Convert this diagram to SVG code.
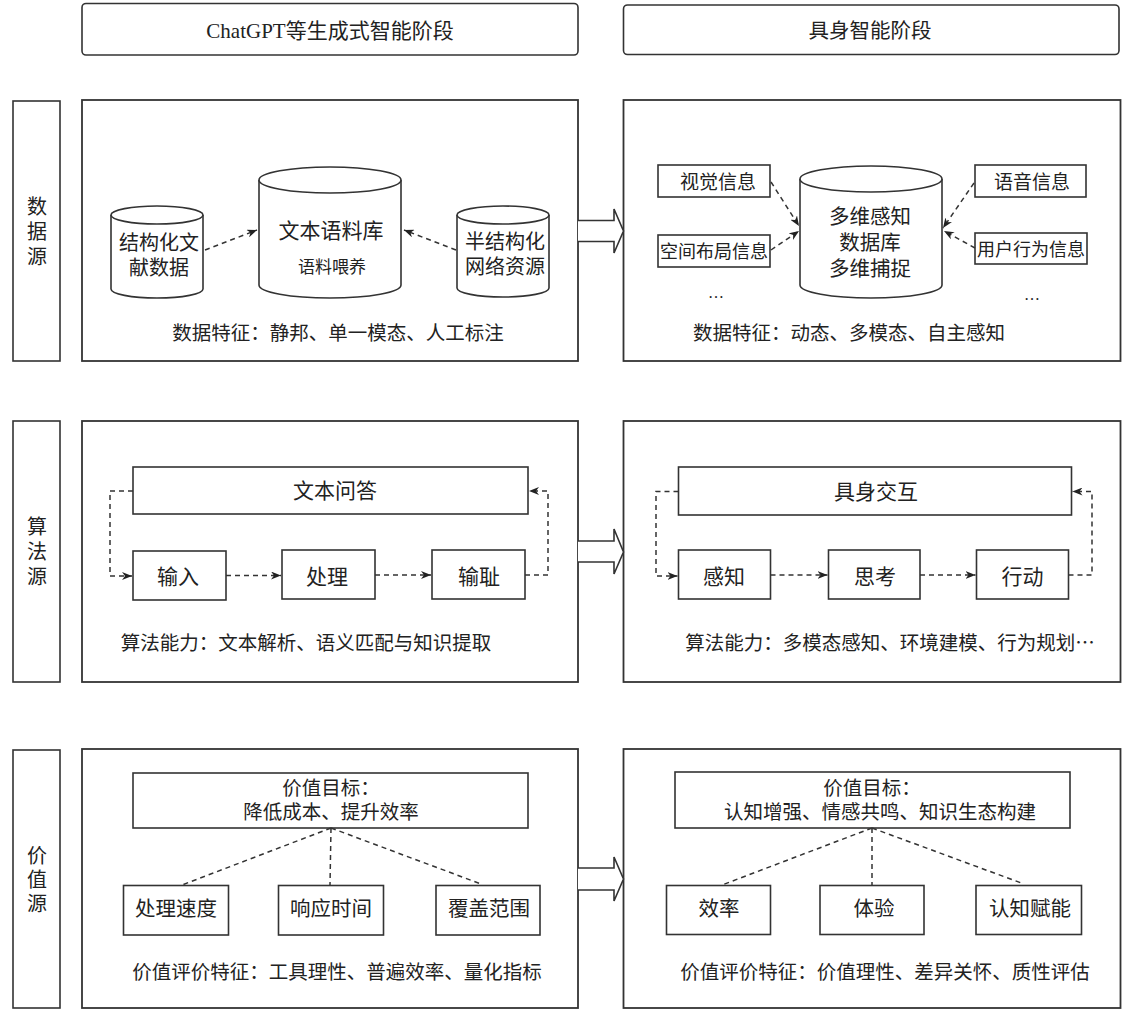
<svg xmlns="http://www.w3.org/2000/svg" width="1122" height="1011" viewBox="0 0 1122 1011">
<defs>
<style>
.box{fill:#fff;stroke:#333;stroke-width:1.6}
.pan{fill:#fff;stroke:#333;stroke-width:1.8}
.t{font-family:"Liberation Serif","Noto Sans CJK SC",serif;fill:#222;text-anchor:middle}
.s{font-family:"Liberation Sans","Noto Sans CJK SC",sans-serif;fill:#222;text-anchor:middle}
.dash{fill:none;stroke:#333;stroke-width:1.5;stroke-dasharray:5 4}
.dar{fill:none;stroke:#333;stroke-width:1.5;stroke-dasharray:5 4;marker-end:url(#ah)}
.big{fill:#fff;stroke:#333;stroke-width:1.6}
</style>
<marker id="ah" viewBox="0 0 10 8" refX="10" refY="4" markerWidth="10" markerHeight="8" markerUnits="userSpaceOnUse" orient="auto">
<path d="M0,0 L10,4 L0,8 L3,4 z" fill="#222"/>
</marker>
</defs>
<rect width="1122" height="1011" fill="#fff"/>

<g id="header-left"><rect class="box" x="82" y="3.5" width="496" height="51.5" rx="4"/><text class="t" x="330" y="37.5" font-size="21">ChatGPT等生成式智能阶段</text></g>
<g id="header-right"><rect class="box" x="623.5" y="5" width="495.5" height="49.5" rx="4"/><text class="s" x="870" y="37.5" font-size="20.5">具身智能阶段</text></g>

<g id="label-data"><rect class="box" x="13" y="101" width="47" height="260"/><text class="s" font-size="20"><tspan x="37" y="214.2">数</tspan><tspan x="37" y="239.2">据</tspan><tspan x="37" y="264.2">源</tspan></text></g>
<g id="label-algo"><rect class="box" x="13" y="421" width="47" height="261"/><text class="s" font-size="20"><tspan x="37" y="534.2">算</tspan><tspan x="37" y="559.2">法</tspan><tspan x="37" y="584.2">源</tspan></text></g>
<g id="label-value"><rect class="box" x="13" y="750" width="47" height="258"/><text class="s" font-size="20"><tspan x="37" y="863.2">价</tspan><tspan x="37" y="887.2">值</tspan><tspan x="37" y="911.2">源</tspan></text></g>

<g id="panel-data-left"><rect class="pan" x="82" y="100" width="496" height="261"/>
<text class="t" x="338" y="340" font-size="19.5">数据特征：静邦、单一模态、人工标注</text></g>
<g id="panel-data-right"><rect class="pan" x="623.5" y="100" width="497" height="261"/>
<text class="t" x="849" y="340" font-size="19.5">数据特征：动态、多模态、自主感知</text>
<text class="t" x="716" y="298" font-size="16">…</text>
<text class="t" x="1032" y="300" font-size="16">…</text></g>
<g id="panel-algo-left"><rect class="pan" x="82" y="421" width="496" height="261"/>
<text class="t" x="306" y="650" font-size="19.5">算法能力：文本解析、语义匹配与知识提取</text></g>
<g id="panel-algo-right"><rect class="pan" x="623.5" y="421" width="497" height="261"/>
<text class="t" x="890" y="650" font-size="19.5">算法能力：多模态感知、环境建模、行为规划<tspan font-family="Noto Sans CJK SC, sans-serif">…</tspan></text></g>
<g id="panel-value-left"><rect class="pan" x="82" y="749" width="496" height="259"/>
<text class="t" x="337" y="979" font-size="19.5">价值评价特征：工具理性、普遍效率、量化指标</text></g>
<g id="panel-value-right"><rect class="pan" x="623.5" y="749" width="497" height="259"/>
<text class="t" x="885" y="979" font-size="19.5">价值评价特征：价值理性、差异关怀、质性评估</text></g>

<g id="cyl-structured"><path class="box" d="M111,215 V289 A46,9 0 0 0 203,289 V215"/><ellipse class="box" cx="157" cy="215" rx="46" ry="9"/>
<text class="s" font-size="20"><tspan x="159" y="250.2">结构化文</tspan><tspan x="159" y="275.2">献数据</tspan></text></g>
<g id="cyl-corpus"><path class="box" d="M259,180 V285 A71,13 0 0 0 401,285 V180"/><ellipse class="box" cx="330" cy="180" rx="71" ry="13"/>
<text class="s" x="331" y="237.6" font-size="21">文本语料库</text><text class="s" x="332" y="273" font-size="17">语料喂养</text></g>
<g id="cyl-semi"><path class="box" d="M457,215 V288 A46,9 0 0 0 549,288 V215"/><ellipse class="box" cx="503" cy="215" rx="46" ry="9"/>
<text class="s" font-size="20"><tspan x="505" y="249.2">半结构化</tspan><tspan x="505" y="274.2">网络资源</tspan></text></g>

<g id="cyl-multi"><path class="box" d="M800,179 V285 A71,13 0 0 0 942,285 V179"/><ellipse class="box" cx="871" cy="179" rx="71" ry="13"/>
<text class="s" font-size="20.5"><tspan x="870" y="224.4">多维感知</tspan><tspan x="870" y="250.2">数据库</tspan><tspan x="870" y="276">多维捕捉</tspan></text></g>
<g id="n-visual"><rect class="box" x="658" y="165" width="112" height="32"/><text class="s" x="718" y="188.8" font-size="19">视觉信息</text></g>
<g id="n-space"><rect class="box" x="658" y="235" width="112" height="32"/><text class="s" x="714" y="257.5" font-size="18">空间布局信息</text></g>
<g id="n-voice"><rect class="box" x="975" y="165" width="111" height="32"/><text class="s" x="1032" y="188.8" font-size="19">语音信息</text></g>
<g id="n-user"><rect class="box" x="975" y="233" width="112" height="31"/><text class="s" x="1031" y="255.5" font-size="18">用户行为信息</text></g>

<g id="n-qa"><rect class="box" x="133" y="467" width="395" height="47"/><text class="s" x="335" y="498" font-size="21">文本问答</text></g>
<g id="n-input"><rect class="box" x="133" y="551" width="93" height="49"/><text class="s" x="178" y="583.5" font-size="21">输入</text></g>
<g id="n-process"><rect class="box" x="282" y="550" width="93" height="49"/><text class="s" x="327" y="583.5" font-size="21">处理</text></g>
<g id="n-output"><rect class="box" x="432" y="550" width="93" height="49"/><text class="s" x="479" y="583.5" font-size="21">输耻</text></g>

<g id="n-embodied"><rect class="box" x="678.5" y="467" width="393" height="48"/><text class="s" x="876" y="498.5" font-size="21">具身交互</text></g>
<g id="n-perceive"><rect class="box" x="678.5" y="550" width="92" height="49"/><text class="s" x="724" y="583.5" font-size="21">感知</text></g>
<g id="n-think"><rect class="box" x="828.5" y="550" width="91.5" height="49"/><text class="s" x="875" y="583.5" font-size="21">思考</text></g>
<g id="n-act"><rect class="box" x="976.5" y="550" width="92" height="49"/><text class="s" x="1022.5" y="583.5" font-size="21">行动</text></g>

<g id="n-goal-left"><rect class="box" x="133" y="773" width="395" height="55"/><text class="s" font-size="19.5"><tspan x="331" y="794.8">价值目标：</tspan><tspan x="331" y="818.8">降低成本、提升效率</tspan></text></g>
<g id="n-speed"><rect class="box" x="123.5" y="885.5" width="105" height="49.5"/><text class="s" x="176" y="916.4" font-size="20.5">处理速度</text></g>
<g id="n-response"><rect class="box" x="278.5" y="885.5" width="105" height="49.5"/><text class="s" x="331" y="916.4" font-size="20.5">响应时间</text></g>
<g id="n-coverage"><rect class="box" x="436" y="885.5" width="104" height="49.5"/><text class="s" x="489" y="916.4" font-size="20.5">覆盖范围</text></g>

<g id="n-goal-right"><rect class="box" x="675" y="772" width="395" height="56"/><text class="s" font-size="19.5"><tspan x="872" y="794.8">价值目标：</tspan><tspan x="880" y="818.8">认知增强、情感共鸣、知识生态构建</tspan></text></g>
<g id="n-eff"><rect class="box" x="666.5" y="885.5" width="104" height="49"/><text class="s" x="719" y="916.4" font-size="20.5">效率</text></g>
<g id="n-exp"><rect class="box" x="820" y="885.5" width="104" height="49"/><text class="s" x="874" y="916.4" font-size="20.5">体验</text></g>
<g id="n-cog"><rect class="box" x="976" y="885.5" width="105.5" height="49"/><text class="s" x="1030" y="916.4" font-size="20.5">认知赋能</text></g>

<g id="connectors">
<path class="big" d="M578,220.5 H614 V209 L623.5,231 L614,253 V241.5 H578"/>
<path class="big" d="M578,541 H614 V529 L623.5,552 L614,574 V562 H578"/>
<path class="big" d="M578,868 H614 V857 L623.5,879 L614,901 V890 H578"/>

<path class="dar" d="M205,250 L257,230"/>
<path class="dar" d="M456,250 L404,230"/>
<path class="dar" d="M771,182 L799,226"/>
<path class="dar" d="M771,250 L799,231"/>
<path class="dar" d="M974,183 L943,228"/>
<path class="dar" d="M975,248 L944,231"/>

<path class="dar" d="M133,491 H110 V576 H132"/>
<path class="dar" d="M226,575.5 H281"/>
<path class="dar" d="M375,575 H431"/>
<path class="dar" d="M525,575 H548 V491 H529"/>

<path class="dar" d="M678.5,491.5 H656 V576 H677.5"/>
<path class="dar" d="M770.5,575 H827.5"/>
<path class="dar" d="M920,575 H975.5"/>
<path class="dar" d="M1068.5,575 H1092 V491.5 H1072.5"/>

<path class="dash" d="M331,828 L182,885 M331,828 L330,885 M331,828 L481,884"/>
<path class="dash" d="M872,828 L722,885 M872,828 L872,885 M872,828 L1024,884"/>
</g>
</svg>
